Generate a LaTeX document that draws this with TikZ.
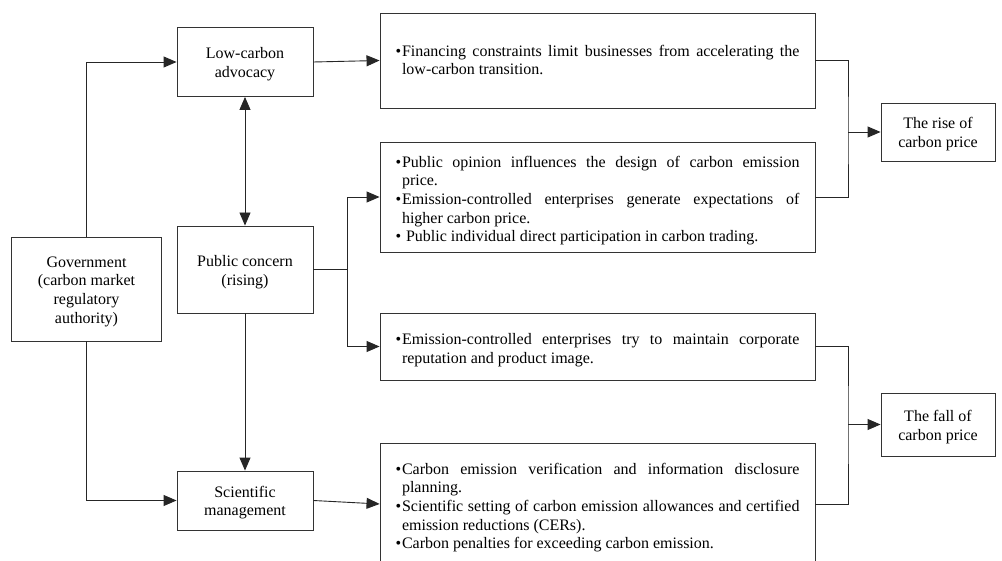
\documentclass[tikz,border=0pt]{standalone}
\usepackage{fontspec}
\setmainfont{Liberation Serif}
\usetikzlibrary{arrows.meta,calc}
\newcommand\bitem[1]{\par{\leftskip=6.5pt\relax\noindent\llap{•\hspace{0.8pt}}#1\par}}
\newcommand\tstrut{\rule{0pt}{15.8pt}}
\begin{document}
\begin{tikzpicture}[x=1pt,y=-1pt,
  box/.style={draw=black!80,line width=0.9pt,rectangle,inner sep=0pt,align=center,
    font=\fontsize{16}{18.6}\selectfont,text=black},
  big/.style={box,minimum width=435pt,text width=404pt,inner xsep=15.5pt,align=justify},
  arr/.style={draw=black!85,line width=0.9pt,-{Triangle[length=13pt,width=11pt]}},
  ln/.style={draw=black!85,line width=0.9pt}]
\useasboundingbox (0,0) rectangle (1002,561);
\fill[white] (0,0) rectangle (1002,561);
\node[box,minimum width=150pt,minimum height=104pt] (gov) at (86.5,289) {\tstrut Government\\(carbon market\\regulatory\\authority)};
\node[box,minimum width=136pt,minimum height=69pt] (low) at (245,62) {\tstrut Low-carbon\\advocacy};
\node[box,minimum width=136pt,minimum height=87pt] (pub) at (245,269.5) {\rule{0pt}{17pt}Public concern\\(rising)};
\node[box,minimum width=136pt,minimum height=59pt] (sci) at (245,500.5) {\tstrut Scientific\\management};
\node[big,minimum height=95pt,text depth=46pt] (b1) at (597.5,60.5) {\parindent=0pt
\bitem{Financing constraints limit businesses from accelerating the\linebreak low-carbon transition.}};
\node[big,minimum height=110pt] (b2) at (597.5,197) {\parindent=0pt
\bitem{Public opinion influences the design of carbon emission\linebreak price.}
\bitem{Emission-controlled enterprises generate expectations of\linebreak higher carbon price.}
\bitem{ Public individual direct participation in carbon trading.}};
\node[big,minimum height=67pt] (b3) at (597.5,346.5) {\parindent=0pt
\bitem{Emission-controlled enterprises try to maintain corporate\linebreak reputation and product image.}};
\node[big,minimum height=122pt] (b4) at (597.5,504) {\parindent=0pt
\bitem{Carbon emission verification and information disclosure\linebreak planning.}
\bitem{Scientific setting of carbon emission allowances and certified\linebreak emission reductions (CERs).}
\bitem{Carbon penalties for exceeding carbon emission.}};
\node[box,minimum width=114pt,minimum height=58pt] (rise) at (938,132) {\tstrut The rise of\\carbon price};
\node[box,minimum width=114pt,minimum height=63pt] (fall) at (938,424.5) {\rule{0pt}{17pt}The fall of\\carbon price};
\coordinate (pj) at (347,269.5);
\coordinate (rj) at (848,132);
\coordinate (fj) at (848,424.5);
\draw[arr] (gov.north) |- (low.west);
\draw[arr] (gov.south) |- (sci.west);
\draw[arr,{Triangle[length=13pt,width=11pt]}-{Triangle[length=13pt,width=11pt]}] (low.south) -- (pub.north);
\draw[arr] (pub.south) -- (sci.north);
\draw[arr] (low.east) -- (b1.west);
\draw[arr] (sci.east) -- (b4.west);
\draw[ln] (pub.east) -- (pj);
\draw[arr] (pj) |- (b2.west);
\draw[arr] (pj) |- (b3.west);
\draw[ln] (b1.east) -| (rj) |- (b2.east);
\draw[arr] (rj) -- (rise.west);
\draw[ln] (b3.east) -| (fj) |- (b4.east);
\draw[arr] (fj) -- (fall.west);
\end{tikzpicture}
\end{document}
